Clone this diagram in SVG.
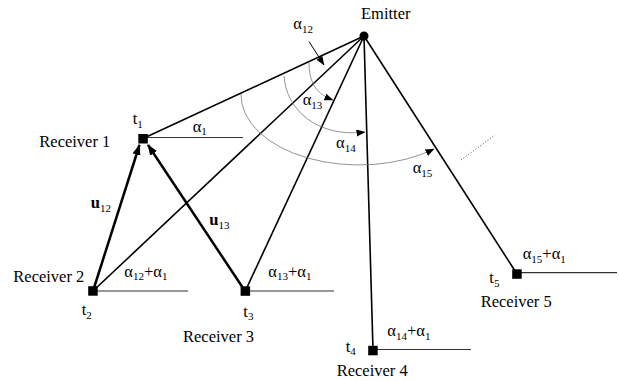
<svg xmlns="http://www.w3.org/2000/svg" width="619" height="381" viewBox="0 0 619 381" font-family="'Liberation Serif', 'DejaVu Serif', serif">
<style>
text{font-family:'Liberation Serif','DejaVu Serif',serif;font-size:16.5px;fill:#000}
.sub{font-size:11px}
.ray{stroke:#000;stroke-width:1.6;fill:none}
.ref{stroke:#333;stroke-width:1.2;fill:none}
.vec{stroke:#000;stroke-width:2.5;fill:none;marker-end:url(#big)}
.arc{stroke:#777;stroke-width:0.8;fill:none;marker-end:url(#small)}
.sq{fill:#000}
</style>
<defs>
<marker id="big" markerUnits="userSpaceOnUse" markerWidth="12" markerHeight="9" refX="10" refY="4" orient="auto"><path d="M0,0 L11,4 L0,8 z" fill="#000"/></marker>
<marker id="small" markerUnits="userSpaceOnUse" markerWidth="10" markerHeight="8" refX="8.5" refY="3.5" orient="auto"><path d="M0,0 L9,3.5 L0,7 z" fill="#000"/></marker>
</defs>
<rect width="619" height="381" fill="#fff"/>
<g id="connectors">
<line class="ray" x1="364" y1="36" x2="143" y2="138.5"/>
<line class="ray" x1="364" y1="36" x2="93" y2="291"/>
<line class="ray" x1="364" y1="36" x2="245.3" y2="291"/>
<line class="ray" x1="364" y1="36" x2="373" y2="350"/>
<line class="ray" x1="364" y1="36" x2="517" y2="274"/>
<line class="ref" x1="143" y1="137.5" x2="243" y2="137.5"/>
<line class="ref" x1="93" y1="291" x2="188" y2="291"/>
<line class="ref" x1="245" y1="291" x2="334" y2="291"/>
<line class="ref" x1="373" y1="349.5" x2="471" y2="349.5"/>
<line class="ref" x1="517" y1="272.7" x2="617" y2="272.7"/>
<line class="vec" x1="93" y1="291" x2="139.5" y2="145"/>
<line class="vec" x1="245" y1="291" x2="148" y2="145"/>
<line x1="309" y1="41.5" x2="324" y2="65" stroke="#000" stroke-width="1" marker-end="url(#small)"/>
<path class="arc" d="M309,62 C309,84 317,94 333,100"/>
<path class="arc" d="M284,76 C286,110 318,138 365,132"/>
<path class="arc" d="M241,94 A118,70 0 0 0 434,149"/>
<line x1="461" y1="160" x2="495" y2="135" stroke="#444" stroke-width="1" stroke-dasharray="1,2"/>
</g>
<g id="emitter">
<circle cx="364" cy="36" r="4.5" fill="#000"/>
<text x="361" y="18.5">Emitter</text>
</g>
<g id="receiver1">
<rect class="sq" x="138.3" y="134" width="9.5" height="9.5"/>
<text x="39.3" y="146.5">Receiver 1</text>
<text x="132.7" y="124">t<tspan class="sub" dy="3.5">1</tspan></text>
<text x="192.7" y="131.5">α<tspan class="sub" dy="3.5">1</tspan></text>
</g>
<g id="receiver2">
<rect class="sq" x="88.2" y="286.2" width="9.5" height="9.5"/>
<text x="13.3" y="281.5">Receiver 2</text>
<text x="81.7" y="315">t<tspan class="sub" dy="3.5">2</tspan></text>
<text x="124.3" y="276.5">α<tspan class="sub" dy="3.5">12</tspan><tspan dy="-3.5">+α</tspan><tspan class="sub" dy="3.5">1</tspan></text>
</g>
<g id="receiver3">
<rect class="sq" x="240.6" y="286.3" width="9.5" height="9.5"/>
<text x="183" y="341.5">Receiver 3</text>
<text x="243.3" y="316.5">t<tspan class="sub" dy="3.5">3</tspan></text>
<text x="268.3" y="276.5">α<tspan class="sub" dy="3.5">13</tspan><tspan dy="-3.5">+α</tspan><tspan class="sub" dy="3.5">1</tspan></text>
</g>
<g id="receiver4">
<rect class="sq" x="368.2" y="345.8" width="9.5" height="9.5"/>
<text x="336.7" y="375.5">Receiver 4</text>
<text x="345.7" y="351.5">t<tspan class="sub" dy="3.5">4</tspan></text>
<text x="387.3" y="336">α<tspan class="sub" dy="3.5">14</tspan><tspan dy="-3.5">+α</tspan><tspan class="sub" dy="3.5">1</tspan></text>
</g>
<g id="receiver5">
<rect class="sq" x="512.2" y="269.3" width="9.5" height="9.5"/>
<text x="480.7" y="307">Receiver 5</text>
<text x="489.3" y="283">t<tspan class="sub" dy="3.5">5</tspan></text>
<text x="522.7" y="259">α<tspan class="sub" dy="3.5">15</tspan><tspan dy="-3.5">+α</tspan><tspan class="sub" dy="3.5">1</tspan></text>
</g>
<g id="labels">
<text x="293.3" y="29">α<tspan class="sub" dy="3.5">12</tspan></text>
<text x="302.7" y="105">α<tspan class="sub" dy="3.5">13</tspan></text>
<text x="336" y="148">α<tspan class="sub" dy="3.5">14</tspan></text>
<text x="412.7" y="173">α<tspan class="sub" dy="3.5">15</tspan></text>
<text x="90.7" y="208.3"><tspan font-weight="bold">u</tspan><tspan class="sub" dy="3.5">12</tspan></text>
<text x="209.3" y="225"><tspan font-weight="bold">u</tspan><tspan class="sub" dy="3.5">13</tspan></text>
</g>
</svg>
